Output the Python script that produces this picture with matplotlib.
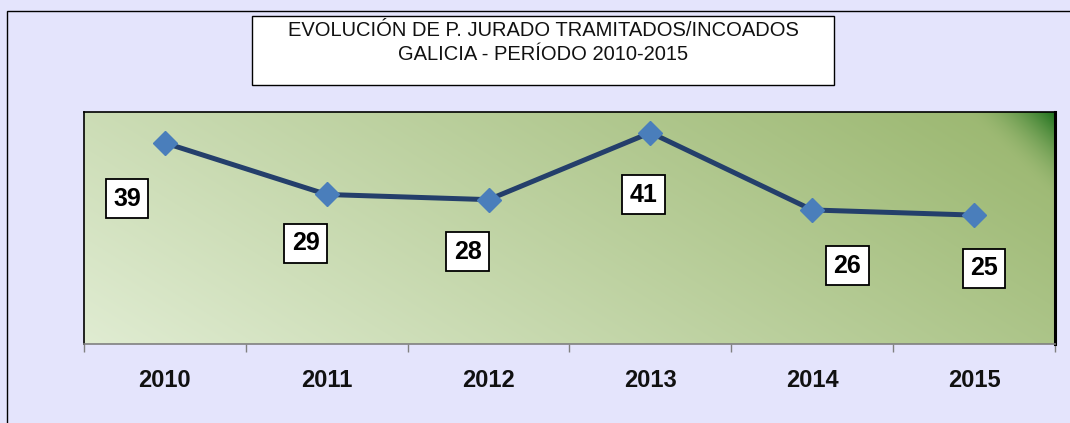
import matplotlib.pyplot as plt
import matplotlib.patches as mpatches
import numpy as np

years = ["2010", "2011", "2012", "2013", "2014", "2015"]
values = [39, 29, 28, 41, 26, 25]
title_lines = ["EVOLUCIÓN DE P. JURADO TRAMITADOS/INCOADOS",
               "GALICIA - PERÍODO 2010-2015"]

plt.rcParams["font.family"] = ["Liberation Sans", "DejaVu Sans"]

W, H = 1070, 423
fig = plt.figure(figsize=(W / 100, H / 100), dpi=100)
fig.patch.set_facecolor("#E4E4FC")

# outer frame of the chart object
fig.add_artist(mpatches.Rectangle((7 / W, -0.1), 1.1, 1 - 11 / H + 0.1,
                                  transform=fig.transFigure, fill=False,
                                  ec="black", lw=1.0))

# title box
bx0, bx1, by0, by1 = 252, 834, 16, 85
fig.add_artist(mpatches.Rectangle((bx0 / W, 1 - by1 / H), (bx1 - bx0) / W, (by1 - by0) / H,
                                  transform=fig.transFigure, fc="white",
                                  ec="black", lw=1.0))
fig.text((bx0 + bx1) / 2 / W, 1 - 31 / H, title_lines[0], ha="center", va="center",
         fontsize=14.5, color="#111111")
fig.text((bx0 + bx1) / 2 / W, 1 - 55 / H, title_lines[1], ha="center", va="center",
         fontsize=14.5, color="#111111")

ax = fig.add_axes([84 / W, 1 - 344 / H, (1055 - 84) / W, (344 - 112) / H])

# gradient plot area
pw, ph = 1055 - 84, 344 - 112
xx, yy = np.meshgrid(np.arange(pw), np.arange(ph))
xf = xx / (pw - 1)
yf = 1 - yy / (ph - 1)
t = np.clip(0.72 * xf + 0.28 * yf, 0, 1)
c0 = np.array([224, 236, 210]) / 255
c1 = np.array([152, 181, 108]) / 255
img = c0 + (c1 - c0) * t[..., None]
d = (pw - 1 - xx) + yy
wcorner = np.clip(1 - d / 90, 0, 1) ** 1.8
dark = np.array([28, 112, 28]) / 255
img = img * (1 - wcorner[..., None]) + dark * wcorner[..., None]
ax.imshow(img, extent=[0, 1, 0, 1], transform=ax.transAxes, aspect="auto",
          zorder=0, interpolation="bilinear")

x = np.arange(len(years))
ax.plot(x, values, color="#243F6B", lw=3.6, zorder=3, solid_capstyle="round")
ax.plot(x, values, ls="none", marker="D", ms=12, mfc="#4A7EBB", mec="#4A7EBB",
        zorder=4)

# label offsets in pixels (right, down) as placed in the original chart
offsets = [(-38, 56), (-21, 49), (-21, 52), (-7, 62), (35, 56), (10, 53)]
for xi, v, (dx, dy) in zip(x, values, offsets):
    ax.annotate(str(v), (xi, v), xytext=(dx, -dy), textcoords="offset pixels",
                ha="center", va="center", fontsize=18, fontweight="bold",
                color="black", zorder=5, annotation_clip=False,
                bbox=dict(boxstyle="square,pad=0.3", fc="white", ec="black", lw=1.3))

ax.set_xlim(-0.5, len(years) - 0.5)
ax.set_ylim(0, 45)
ax.set_yticks([])
ax.set_xticks(x)
ax.set_xticklabels(years, fontsize=17, fontweight="bold", color="#111111")
ax.tick_params(axis="x", which="major", length=0, pad=18)
ax.set_xticks(np.arange(-0.5, len(years)), minor=True)
ax.tick_params(axis="x", which="minor", length=6, width=1, color="#808080",
               direction="out")

for side in ["top", "left"]:
    ax.spines[side].set_color("black")
    ax.spines[side].set_linewidth(1.2)
ax.spines["right"].set_color("black")
ax.spines["right"].set_linewidth(2.2)
ax.spines["bottom"].set_color("#808080")
ax.spines["bottom"].set_linewidth(1.2)

fig.savefig("out.png", dpi=100, facecolor=fig.get_facecolor())
